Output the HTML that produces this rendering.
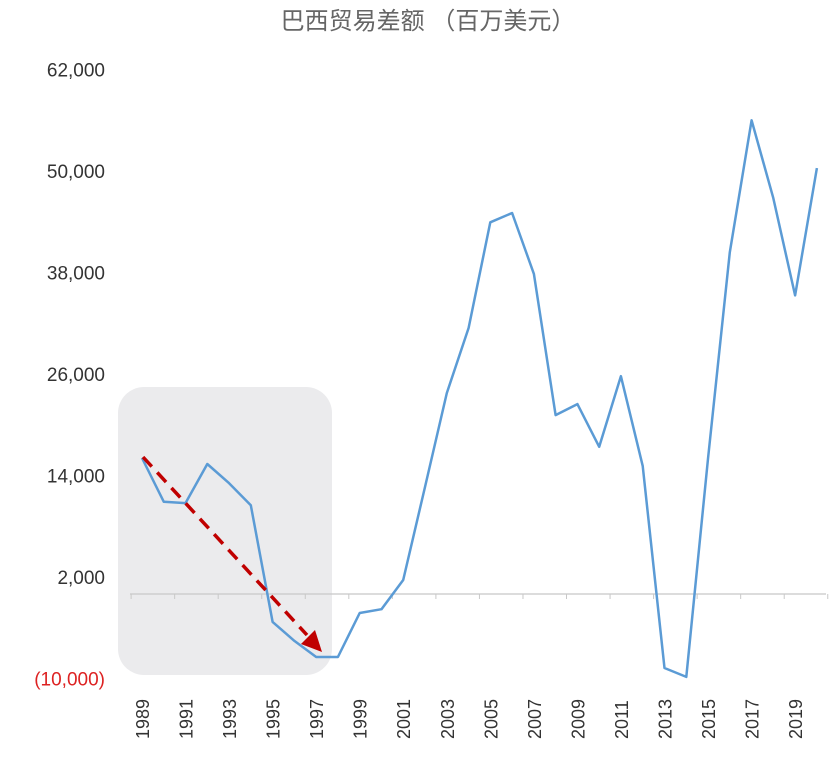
<!DOCTYPE html>
<html><head><meta charset="utf-8"><style>
html,body{margin:0;padding:0;background:#fff;}
svg{display:block;font-family:"Liberation Sans","Noto Sans CJK SC",sans-serif;}
</style></head><body>
<svg id="chart" width="840" height="760">
<text x="428" y="29" text-anchor="middle" font-size="24" fill="#666">巴西贸易差额 （百万美元）</text>
<rect x="118" y="387" width="214" height="288" rx="26" fill="#ebebed"/>
<g id="yaxis"></g>
<g id="xaxis"></g>
<g id="series"></g>
<g>
<line x1="143" y1="457" x2="307" y2="635" stroke="#c00000" stroke-width="3.5" stroke-dasharray="13,8"/>
<polygon points="322,652 301,644 315,630" fill="#c00000"/>
</g>
</svg>
<script>
const years=[1989,1990,1991,1992,1993,1994,1995,1996,1997,1998,1999,2000,2001,2002,2003,2004,2005,2006,2007,2008,2009,2010,2011,2012,2013,2014,2015,2016,2017,2018,2019,2020];
const balance=[16080,10900,10750,15370,13100,10500,-3300,-5550,-7450,-7450,-2250,-1800,1650,12650,23750,31450,43950,45050,37850,21150,22450,17400,25750,15150,-8750,-9800,16000,40400,56000,46800,35300,50350];
const yTicks=[62000,50000,38000,26000,14000,2000,-10000];
const yTickLabels=["62,000","50,000","38,000","26,000","14,000","2,000","(10,000)"];
const xLabelYears=[1989,1991,1993,1995,1997,1999,2001,2003,2005,2007,2009,2011,2013,2015,2017,2019];
const NS="http://www.w3.org/2000/svg";
function xs(yr){return 142+(yr-1989)*21.77;}
function ys(v){return 594-v*101.5/12000;}
function mk(tag,attrs,parent){const e=document.createElementNS(NS,tag);for(const k in attrs)e.setAttribute(k,attrs[k]);parent.appendChild(e);return e;}
const ya=document.getElementById('yaxis');
yTicks.forEach((t,i)=>{
 const e=mk('text',{x:105,y:ys(t)+7,'text-anchor':'end','font-size':19,fill:t<0?'#d22':'#333'},ya);
 
 
 e.textContent=yTickLabels[i];
});
const xa=document.getElementById('xaxis');
const base=mk('line',{x1:130,y1:ys(0),x2:826,y2:ys(0),stroke:'#c8c8c8','stroke-width':1.2},xa);


for(let yr=1988.5;yr<=2021;yr+=2){
 const tk=mk('line',{x1:xs(yr),y1:ys(0),x2:xs(yr),y2:ys(0)+5,stroke:'#c8c8c8','stroke-width':1},xa);
 
 
}
xLabelYears.forEach(yr=>{
 const x=xs(yr)+7,y=739;
 const e=mk('text',{x:x,y:y,'font-size':18,fill:'#333',transform:`rotate(-90 ${x} ${y})`},xa);
 
 
 e.textContent=yr;
});
const pts=years.map((yr,i)=>xs(yr).toFixed(1)+','+ys(balance[i]).toFixed(1)).join(' ');
const pl=mk('polyline',{points:pts,fill:'none',stroke:'#5b9bd5','stroke-width':2.5,'stroke-linejoin':'round'},document.getElementById('series'));


</script>
</body></html>
